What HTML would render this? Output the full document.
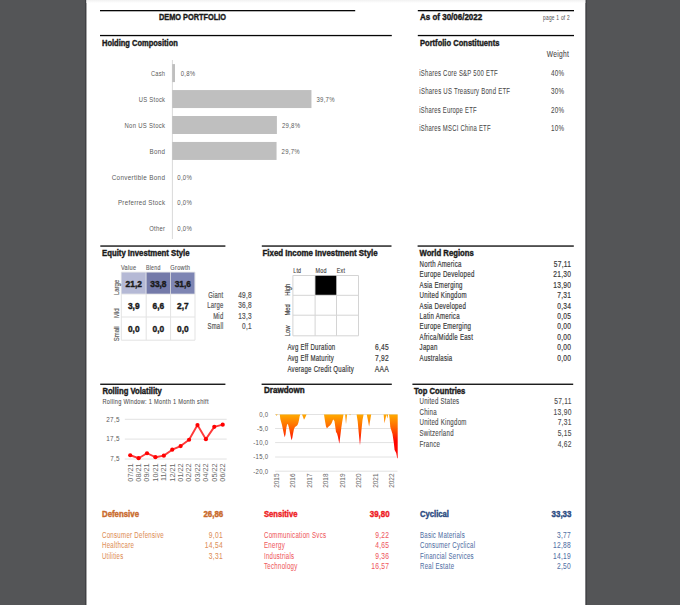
<!DOCTYPE html>
<html><head><meta charset="utf-8"><title>Demo Portfolio</title>
<style>
html,body{margin:0;padding:0;background:#545557;width:680px;height:605px;overflow:hidden}
svg{display:block}
text{font-family:"Liberation Sans",Arial,sans-serif}
</style></head><body>
<svg width="680" height="605" viewBox="0 0 680 605">
<defs>
<linearGradient id="topsh" x1="0" y1="0" x2="0" y2="1"><stop offset="0" stop-color="#f1f1f1"/><stop offset="1" stop-color="#fff"/></linearGradient>
<linearGradient id="ddg" gradientUnits="userSpaceOnUse" x1="0" y1="414.5" x2="0" y2="441"><stop offset="0" stop-color="#ffab00"/><stop offset="0.5" stop-color="#ff6400"/><stop offset="1" stop-color="#ff0500"/></linearGradient>
</defs>
<rect width="680" height="605" fill="#545557"/>
<rect x="85.00" y="0.00" width="1.50" height="605.00" fill="#404144"/>
<rect x="585.30" y="0.00" width="1.50" height="605.00" fill="#404144"/>
<rect x="86.50" y="0.00" width="498.80" height="605.00" fill="#fff"/>
<rect x="86.5" y="0" width="498.8" height="3" fill="url(#topsh)"/>
<rect x="100.00" y="10.00" width="255.20" height="1.30" fill="#050505"/>
<rect x="100.00" y="34.90" width="291.80" height="1.30" fill="#050505"/>
<rect x="417.80" y="10.00" width="156.20" height="1.30" fill="#050505"/>
<rect x="417.80" y="34.90" width="156.20" height="1.30" fill="#050505"/>
<text x="159.00" y="19.80" font-size="8.8" font-weight="bold" fill="#1a1a1a" stroke="#1a1a1a" stroke-width="0.4" text-anchor="start" textLength="67.01" lengthAdjust="spacingAndGlyphs">DEMO PORTFOLIO</text>
<text x="420.00" y="19.90" font-size="8.8" font-weight="bold" fill="#1a1a1a" stroke="#1a1a1a" stroke-width="0.4" text-anchor="start" textLength="62.20" lengthAdjust="spacingAndGlyphs">As of 30/06/2022</text>
<text x="570.00" y="20.00" font-size="6.6" fill="#555" stroke="#555" stroke-width="0.05" letter-spacing="0.35" text-anchor="end" textLength="27.00" lengthAdjust="spacingAndGlyphs">page 1 of 2</text>
<text x="102.00" y="46.20" font-size="8.8" font-weight="bold" fill="#1a1a1a" stroke="#1a1a1a" stroke-width="0.4" text-anchor="start" textLength="75.80" lengthAdjust="spacingAndGlyphs">Holding Composition</text>
<text x="420.00" y="45.80" font-size="8.8" font-weight="bold" fill="#1a1a1a" stroke="#1a1a1a" stroke-width="0.4" text-anchor="start" textLength="79.39" lengthAdjust="spacingAndGlyphs">Portfolio Constituents</text>
<line x1="172.4" y1="60" x2="172.4" y2="239" stroke="#d9d9d9" stroke-width="1"/>
<rect x="172.20" y="64.10" width="2.80" height="18.00" fill="#bfbfbf"/>
<text x="165.30" y="75.70" font-size="7.3" fill="#5a5a5a" letter-spacing="0.35" text-anchor="end" textLength="14.40" lengthAdjust="spacingAndGlyphs">Cash</text>
<text x="180.69" y="75.70" font-size="7.3" fill="#5a5a5a" letter-spacing="0.35" text-anchor="start" textLength="14.81" lengthAdjust="spacingAndGlyphs">0,8%</text>
<rect x="172.20" y="90.05" width="139.25" height="18.00" fill="#bfbfbf"/>
<text x="165.29" y="101.65" font-size="7.3" fill="#5a5a5a" letter-spacing="0.35" text-anchor="end" textLength="26.49" lengthAdjust="spacingAndGlyphs">US Stock</text>
<text x="316.45" y="101.65" font-size="7.3" fill="#5a5a5a" letter-spacing="0.35" text-anchor="start" textLength="18.42" lengthAdjust="spacingAndGlyphs">39,7%</text>
<rect x="172.20" y="116.00" width="104.70" height="18.00" fill="#bfbfbf"/>
<text x="165.29" y="127.60" font-size="7.3" fill="#5a5a5a" letter-spacing="0.35" text-anchor="end" textLength="40.79" lengthAdjust="spacingAndGlyphs">Non US Stock</text>
<text x="281.90" y="127.60" font-size="7.3" fill="#5a5a5a" letter-spacing="0.35" text-anchor="start" textLength="18.42" lengthAdjust="spacingAndGlyphs">29,8%</text>
<rect x="172.20" y="141.95" width="104.35" height="18.00" fill="#bfbfbf"/>
<text x="165.30" y="153.55" font-size="7.3" fill="#5a5a5a" letter-spacing="0.35" text-anchor="end" textLength="15.70" lengthAdjust="spacingAndGlyphs">Bond</text>
<text x="281.55" y="153.55" font-size="7.3" fill="#5a5a5a" letter-spacing="0.35" text-anchor="start" textLength="18.42" lengthAdjust="spacingAndGlyphs">29,7%</text>
<text x="165.29" y="179.50" font-size="7.3" fill="#5a5a5a" letter-spacing="0.35" text-anchor="end" textLength="53.59" lengthAdjust="spacingAndGlyphs">Convertible Bond</text>
<text x="177.30" y="179.50" font-size="7.3" fill="#5a5a5a" letter-spacing="0.35" text-anchor="start" textLength="14.81" lengthAdjust="spacingAndGlyphs">0,0%</text>
<text x="165.28" y="205.45" font-size="7.3" fill="#5a5a5a" letter-spacing="0.35" text-anchor="end" textLength="47.38" lengthAdjust="spacingAndGlyphs">Preferred Stock</text>
<text x="177.30" y="205.45" font-size="7.3" fill="#5a5a5a" letter-spacing="0.35" text-anchor="start" textLength="14.81" lengthAdjust="spacingAndGlyphs">0,0%</text>
<text x="165.31" y="231.40" font-size="7.3" fill="#5a5a5a" letter-spacing="0.35" text-anchor="end" textLength="16.07" lengthAdjust="spacingAndGlyphs">Other</text>
<text x="177.30" y="231.40" font-size="7.3" fill="#5a5a5a" letter-spacing="0.35" text-anchor="start" textLength="14.81" lengthAdjust="spacingAndGlyphs">0,0%</text>
<text x="546.80" y="56.90" font-size="8.4" fill="#4a4a4a" stroke="#4a4a4a" stroke-width="0.1" letter-spacing="0.35" text-anchor="start" textLength="22.30" lengthAdjust="spacingAndGlyphs">Weight</text>
<text x="419.30" y="75.90" font-size="8.4" fill="#4a4a4a" stroke="#4a4a4a" stroke-width="0.06" letter-spacing="0.35" text-anchor="start" textLength="78.60" lengthAdjust="spacingAndGlyphs">iShares Core S&amp;P 500 ETF</text>
<text x="564.39" y="75.90" font-size="8.4" fill="#4a4a4a" stroke="#4a4a4a" stroke-width="0.06" letter-spacing="0.35" text-anchor="end" textLength="13.39" lengthAdjust="spacingAndGlyphs">40%</text>
<text x="419.30" y="94.20" font-size="8.4" fill="#4a4a4a" stroke="#4a4a4a" stroke-width="0.06" letter-spacing="0.35" text-anchor="start" textLength="91.00" lengthAdjust="spacingAndGlyphs">iShares US Treasury Bond ETF</text>
<text x="564.39" y="94.20" font-size="8.4" fill="#4a4a4a" stroke="#4a4a4a" stroke-width="0.06" letter-spacing="0.35" text-anchor="end" textLength="13.39" lengthAdjust="spacingAndGlyphs">30%</text>
<text x="419.30" y="112.50" font-size="8.4" fill="#4a4a4a" stroke="#4a4a4a" stroke-width="0.06" letter-spacing="0.35" text-anchor="start" textLength="57.50" lengthAdjust="spacingAndGlyphs">iShares Europe ETF</text>
<text x="564.39" y="112.50" font-size="8.4" fill="#4a4a4a" stroke="#4a4a4a" stroke-width="0.06" letter-spacing="0.35" text-anchor="end" textLength="13.39" lengthAdjust="spacingAndGlyphs">20%</text>
<text x="419.30" y="130.80" font-size="8.4" fill="#4a4a4a" stroke="#4a4a4a" stroke-width="0.06" letter-spacing="0.35" text-anchor="start" textLength="71.51" lengthAdjust="spacingAndGlyphs">iShares MSCI China ETF</text>
<text x="564.39" y="130.80" font-size="8.4" fill="#4a4a4a" stroke="#4a4a4a" stroke-width="0.06" letter-spacing="0.35" text-anchor="end" textLength="13.39" lengthAdjust="spacingAndGlyphs">10%</text>
<rect x="100.30" y="245.40" width="125.10" height="1.30" fill="#050505"/>
<rect x="261.80" y="245.40" width="129.70" height="1.30" fill="#050505"/>
<rect x="417.60" y="245.40" width="156.20" height="1.30" fill="#050505"/>
<text x="102.00" y="255.60" font-size="8.8" font-weight="bold" fill="#1a1a1a" stroke="#1a1a1a" stroke-width="0.4" text-anchor="start" textLength="87.51" lengthAdjust="spacingAndGlyphs">Equity Investment Style</text>
<text x="262.50" y="255.60" font-size="8.8" font-weight="bold" fill="#1a1a1a" stroke="#1a1a1a" stroke-width="0.4" text-anchor="start" textLength="115.11" lengthAdjust="spacingAndGlyphs">Fixed Income Investment Style</text>
<text x="419.50" y="255.60" font-size="8.8" font-weight="bold" fill="#1a1a1a" stroke="#1a1a1a" stroke-width="0.4" text-anchor="start" textLength="54.30" lengthAdjust="spacingAndGlyphs">World Regions</text>
<line x1="121.3" y1="272.2" x2="121.3" y2="340.2" stroke="#e3e3e3" stroke-width="1"/>
<line x1="121.3" y1="272.2" x2="195.0" y2="272.2" stroke="#e3e3e3" stroke-width="1"/>
<line x1="146.2" y1="272.2" x2="146.2" y2="340.2" stroke="#e3e3e3" stroke-width="1"/>
<line x1="121.3" y1="294.0" x2="195.0" y2="294.0" stroke="#e3e3e3" stroke-width="1"/>
<line x1="170.6" y1="272.2" x2="170.6" y2="340.2" stroke="#e3e3e3" stroke-width="1"/>
<line x1="121.3" y1="317.0" x2="195.0" y2="317.0" stroke="#e3e3e3" stroke-width="1"/>
<line x1="195.0" y1="272.2" x2="195.0" y2="340.2" stroke="#e3e3e3" stroke-width="1"/>
<line x1="121.3" y1="340.2" x2="195.0" y2="340.2" stroke="#e3e3e3" stroke-width="1"/>
<rect x="121.60" y="272.50" width="24.10" height="21.20" fill="#b5b9d5"/>
<text x="133.75" y="286.60" font-size="8.8" font-weight="bold" fill="#1a1a1a" stroke="#1a1a1a" stroke-width="0.4" text-anchor="middle" textLength="16.27" lengthAdjust="spacingAndGlyphs">21,2</text>
<rect x="146.50" y="272.50" width="23.60" height="21.20" fill="#747aa9"/>
<text x="158.40" y="286.60" font-size="8.8" font-weight="bold" fill="#1a1a1a" stroke="#1a1a1a" stroke-width="0.4" text-anchor="middle" textLength="16.27" lengthAdjust="spacingAndGlyphs">33,8</text>
<rect x="170.90" y="272.50" width="23.60" height="21.20" fill="#7e85b3"/>
<text x="182.80" y="286.60" font-size="8.8" font-weight="bold" fill="#1a1a1a" stroke="#1a1a1a" stroke-width="0.4" text-anchor="middle" textLength="16.27" lengthAdjust="spacingAndGlyphs">31,6</text>
<text x="133.75" y="309.00" font-size="8.8" font-weight="bold" fill="#1a1a1a" stroke="#1a1a1a" stroke-width="0.4" text-anchor="middle" textLength="11.62" lengthAdjust="spacingAndGlyphs">3,9</text>
<text x="158.40" y="309.00" font-size="8.8" font-weight="bold" fill="#1a1a1a" stroke="#1a1a1a" stroke-width="0.4" text-anchor="middle" textLength="11.62" lengthAdjust="spacingAndGlyphs">6,6</text>
<text x="182.80" y="309.00" font-size="8.8" font-weight="bold" fill="#1a1a1a" stroke="#1a1a1a" stroke-width="0.4" text-anchor="middle" textLength="11.62" lengthAdjust="spacingAndGlyphs">2,7</text>
<text x="133.75" y="332.10" font-size="8.8" font-weight="bold" fill="#1a1a1a" stroke="#1a1a1a" stroke-width="0.4" text-anchor="middle" textLength="11.62" lengthAdjust="spacingAndGlyphs">0,0</text>
<text x="158.40" y="332.10" font-size="8.8" font-weight="bold" fill="#1a1a1a" stroke="#1a1a1a" stroke-width="0.4" text-anchor="middle" textLength="11.62" lengthAdjust="spacingAndGlyphs">0,0</text>
<text x="182.80" y="332.10" font-size="8.8" font-weight="bold" fill="#1a1a1a" stroke="#1a1a1a" stroke-width="0.4" text-anchor="middle" textLength="11.62" lengthAdjust="spacingAndGlyphs">0,0</text>
<text x="121.00" y="270.00" font-size="6.9" fill="#5e5e5e" stroke="#5e5e5e" stroke-width="0.12" letter-spacing="0.35" text-anchor="start" textLength="15.31" lengthAdjust="spacingAndGlyphs">Value</text>
<text x="145.90" y="270.00" font-size="6.9" fill="#5e5e5e" stroke="#5e5e5e" stroke-width="0.12" letter-spacing="0.35" text-anchor="start" textLength="14.70" lengthAdjust="spacingAndGlyphs">Blend</text>
<text x="170.30" y="270.00" font-size="6.9" fill="#5e5e5e" stroke="#5e5e5e" stroke-width="0.12" letter-spacing="0.35" text-anchor="start" textLength="20.00" lengthAdjust="spacingAndGlyphs">Growth</text>
<text transform="translate(118.60,295.00) rotate(-90)" font-size="6.9" fill="#5a5a5a" stroke="#5a5a5a" stroke-width="0.15" textLength="15.18" lengthAdjust="spacingAndGlyphs">Large</text>
<text transform="translate(118.60,318.00) rotate(-90)" font-size="6.9" fill="#5a5a5a" stroke="#5a5a5a" stroke-width="0.15" textLength="9.56" lengthAdjust="spacingAndGlyphs">Mid</text>
<text transform="translate(118.60,341.20) rotate(-90)" font-size="6.9" fill="#5a5a5a" stroke="#5a5a5a" stroke-width="0.15" textLength="14.84" lengthAdjust="spacingAndGlyphs">Small</text>
<text x="223.50" y="298.40" font-size="8.4" fill="#555" stroke="#555" stroke-width="0.2" letter-spacing="0.35" text-anchor="end" textLength="15.26" lengthAdjust="spacingAndGlyphs">Giant</text>
<text x="251.89" y="298.40" font-size="8.4" fill="#555" stroke="#555" stroke-width="0.2" letter-spacing="0.35" text-anchor="end" textLength="13.73" lengthAdjust="spacingAndGlyphs">49,8</text>
<text x="223.50" y="308.45" font-size="8.4" fill="#555" stroke="#555" stroke-width="0.2" letter-spacing="0.35" text-anchor="end" textLength="16.33" lengthAdjust="spacingAndGlyphs">Large</text>
<text x="251.89" y="308.45" font-size="8.4" fill="#555" stroke="#555" stroke-width="0.2" letter-spacing="0.35" text-anchor="end" textLength="13.73" lengthAdjust="spacingAndGlyphs">36,8</text>
<text x="223.49" y="318.50" font-size="8.4" fill="#555" stroke="#555" stroke-width="0.2" letter-spacing="0.35" text-anchor="end" textLength="10.29" lengthAdjust="spacingAndGlyphs">Mid</text>
<text x="251.89" y="318.50" font-size="8.4" fill="#555" stroke="#555" stroke-width="0.2" letter-spacing="0.35" text-anchor="end" textLength="13.73" lengthAdjust="spacingAndGlyphs">13,3</text>
<text x="223.50" y="328.55" font-size="8.4" fill="#555" stroke="#555" stroke-width="0.2" letter-spacing="0.35" text-anchor="end" textLength="15.96" lengthAdjust="spacingAndGlyphs">Small</text>
<text x="251.90" y="328.55" font-size="8.4" fill="#555" stroke="#555" stroke-width="0.2" letter-spacing="0.35" text-anchor="end" textLength="9.81" lengthAdjust="spacingAndGlyphs">0,1</text>
<line x1="292.9" y1="275.5" x2="292.9" y2="335.8" stroke="#d4d4d4" stroke-width="1"/>
<line x1="292.9" y1="275.5" x2="358.5" y2="275.5" stroke="#d4d4d4" stroke-width="1"/>
<line x1="315.1" y1="275.5" x2="315.1" y2="335.8" stroke="#d4d4d4" stroke-width="1"/>
<line x1="292.9" y1="295.3" x2="358.5" y2="295.3" stroke="#d4d4d4" stroke-width="1"/>
<line x1="336.5" y1="275.5" x2="336.5" y2="335.8" stroke="#d4d4d4" stroke-width="1"/>
<line x1="292.9" y1="315.2" x2="358.5" y2="315.2" stroke="#d4d4d4" stroke-width="1"/>
<line x1="358.5" y1="275.5" x2="358.5" y2="335.8" stroke="#d4d4d4" stroke-width="1"/>
<line x1="292.9" y1="335.8" x2="358.5" y2="335.8" stroke="#d4d4d4" stroke-width="1"/>
<rect x="315.40" y="275.80" width="20.80" height="19.00" fill="#000"/>
<text x="293.20" y="273.40" font-size="7.3" fill="#3c3c3c" stroke="#3c3c3c" stroke-width="0.12" letter-spacing="0.35" text-anchor="start" textLength="8.12" lengthAdjust="spacingAndGlyphs">Ltd</text>
<text x="315.40" y="273.40" font-size="7.3" fill="#3c3c3c" stroke="#3c3c3c" stroke-width="0.12" letter-spacing="0.35" text-anchor="start" textLength="11.36" lengthAdjust="spacingAndGlyphs">Mod</text>
<text x="336.80" y="273.40" font-size="7.3" fill="#3c3c3c" stroke="#3c3c3c" stroke-width="0.12" letter-spacing="0.35" text-anchor="start" textLength="8.44" lengthAdjust="spacingAndGlyphs">Ext</text>
<text transform="translate(290.00,295.70) rotate(-90)" font-size="7.2" fill="#3c3c3c" stroke="#3c3c3c" stroke-width="0.15" textLength="11.85" lengthAdjust="spacingAndGlyphs">High</text>
<text transform="translate(290.00,315.60) rotate(-90)" font-size="7.2" fill="#3c3c3c" stroke="#3c3c3c" stroke-width="0.15" textLength="11.21" lengthAdjust="spacingAndGlyphs">Med</text>
<text transform="translate(290.00,336.20) rotate(-90)" font-size="7.2" fill="#3c3c3c" stroke="#3c3c3c" stroke-width="0.15" textLength="10.57" lengthAdjust="spacingAndGlyphs">Low</text>
<text x="287.40" y="350.20" font-size="8.4" fill="#3a3a3a" stroke="#3a3a3a" stroke-width="0.2" letter-spacing="0.35" text-anchor="start" textLength="48.08" lengthAdjust="spacingAndGlyphs">Avg Eff Duration</text>
<text x="389.09" y="350.20" font-size="8.4" fill="#3a3a3a" stroke="#3a3a3a" stroke-width="0.2" letter-spacing="0.35" text-anchor="end" textLength="14.06" lengthAdjust="spacingAndGlyphs">6,45</text>
<text x="287.40" y="360.95" font-size="8.4" fill="#3a3a3a" stroke="#3a3a3a" stroke-width="0.2" letter-spacing="0.35" text-anchor="start" textLength="46.60" lengthAdjust="spacingAndGlyphs">Avg Eff Maturity</text>
<text x="389.09" y="360.95" font-size="8.4" fill="#3a3a3a" stroke="#3a3a3a" stroke-width="0.2" letter-spacing="0.35" text-anchor="end" textLength="14.06" lengthAdjust="spacingAndGlyphs">7,92</text>
<text x="287.40" y="371.70" font-size="8.4" fill="#3a3a3a" stroke="#3a3a3a" stroke-width="0.2" letter-spacing="0.35" text-anchor="start" textLength="66.64" lengthAdjust="spacingAndGlyphs">Average Credit Quality</text>
<text x="389.09" y="371.70" font-size="8.4" fill="#3a3a3a" stroke="#3a3a3a" stroke-width="0.2" letter-spacing="0.35" text-anchor="end" textLength="14.46" lengthAdjust="spacingAndGlyphs">AAA</text>
<text x="419.60" y="266.90" font-size="8.4" fill="#3a3a3a" stroke="#3a3a3a" stroke-width="0.2" letter-spacing="0.35" text-anchor="start" textLength="42.04" lengthAdjust="spacingAndGlyphs">North America</text>
<text x="571.31" y="266.90" font-size="8.4" fill="#3a3a3a" stroke="#3a3a3a" stroke-width="0.2" letter-spacing="0.35" text-anchor="end" textLength="17.54" lengthAdjust="spacingAndGlyphs">57,11</text>
<text x="419.60" y="277.30" font-size="8.4" fill="#3a3a3a" stroke="#3a3a3a" stroke-width="0.2" letter-spacing="0.35" text-anchor="start" textLength="54.97" lengthAdjust="spacingAndGlyphs">Europe Developed</text>
<text x="571.30" y="277.30" font-size="8.4" fill="#3a3a3a" stroke="#3a3a3a" stroke-width="0.2" letter-spacing="0.35" text-anchor="end" textLength="18.08" lengthAdjust="spacingAndGlyphs">21,30</text>
<text x="419.60" y="287.70" font-size="8.4" fill="#3a3a3a" stroke="#3a3a3a" stroke-width="0.2" letter-spacing="0.35" text-anchor="start" textLength="43.15" lengthAdjust="spacingAndGlyphs">Asia Emerging</text>
<text x="571.30" y="287.70" font-size="8.4" fill="#3a3a3a" stroke="#3a3a3a" stroke-width="0.2" letter-spacing="0.35" text-anchor="end" textLength="18.08" lengthAdjust="spacingAndGlyphs">13,90</text>
<text x="419.60" y="298.10" font-size="8.4" fill="#3a3a3a" stroke="#3a3a3a" stroke-width="0.2" letter-spacing="0.35" text-anchor="start" textLength="47.22" lengthAdjust="spacingAndGlyphs">United Kingdom</text>
<text x="571.29" y="298.10" font-size="8.4" fill="#3a3a3a" stroke="#3a3a3a" stroke-width="0.2" letter-spacing="0.35" text-anchor="end" textLength="14.06" lengthAdjust="spacingAndGlyphs">7,31</text>
<text x="419.60" y="308.50" font-size="8.4" fill="#3a3a3a" stroke="#3a3a3a" stroke-width="0.2" letter-spacing="0.35" text-anchor="start" textLength="46.48" lengthAdjust="spacingAndGlyphs">Asia Developed</text>
<text x="571.29" y="308.50" font-size="8.4" fill="#3a3a3a" stroke="#3a3a3a" stroke-width="0.2" letter-spacing="0.35" text-anchor="end" textLength="14.06" lengthAdjust="spacingAndGlyphs">0,34</text>
<text x="419.60" y="318.90" font-size="8.4" fill="#3a3a3a" stroke="#3a3a3a" stroke-width="0.2" letter-spacing="0.35" text-anchor="start" textLength="40.21" lengthAdjust="spacingAndGlyphs">Latin America</text>
<text x="571.29" y="318.90" font-size="8.4" fill="#3a3a3a" stroke="#3a3a3a" stroke-width="0.2" letter-spacing="0.35" text-anchor="end" textLength="14.06" lengthAdjust="spacingAndGlyphs">0,05</text>
<text x="419.60" y="329.30" font-size="8.4" fill="#3a3a3a" stroke="#3a3a3a" stroke-width="0.2" letter-spacing="0.35" text-anchor="start" textLength="51.64" lengthAdjust="spacingAndGlyphs">Europe Emerging</text>
<text x="571.29" y="329.30" font-size="8.4" fill="#3a3a3a" stroke="#3a3a3a" stroke-width="0.2" letter-spacing="0.35" text-anchor="end" textLength="14.06" lengthAdjust="spacingAndGlyphs">0,00</text>
<text x="419.60" y="339.70" font-size="8.4" fill="#3a3a3a" stroke="#3a3a3a" stroke-width="0.2" letter-spacing="0.35" text-anchor="start" textLength="53.48" lengthAdjust="spacingAndGlyphs">Africa/Middle East</text>
<text x="571.29" y="339.70" font-size="8.4" fill="#3a3a3a" stroke="#3a3a3a" stroke-width="0.2" letter-spacing="0.35" text-anchor="end" textLength="14.06" lengthAdjust="spacingAndGlyphs">0,00</text>
<text x="419.60" y="350.10" font-size="8.4" fill="#3a3a3a" stroke="#3a3a3a" stroke-width="0.2" letter-spacing="0.35" text-anchor="start" textLength="18.08" lengthAdjust="spacingAndGlyphs">Japan</text>
<text x="571.29" y="350.10" font-size="8.4" fill="#3a3a3a" stroke="#3a3a3a" stroke-width="0.2" letter-spacing="0.35" text-anchor="end" textLength="14.06" lengthAdjust="spacingAndGlyphs">0,00</text>
<text x="419.60" y="360.50" font-size="8.4" fill="#3a3a3a" stroke="#3a3a3a" stroke-width="0.2" letter-spacing="0.35" text-anchor="start" textLength="32.83" lengthAdjust="spacingAndGlyphs">Australasia</text>
<text x="571.29" y="360.50" font-size="8.4" fill="#3a3a3a" stroke="#3a3a3a" stroke-width="0.2" letter-spacing="0.35" text-anchor="end" textLength="14.06" lengthAdjust="spacingAndGlyphs">0,00</text>
<rect x="100.20" y="383.60" width="125.20" height="1.30" fill="#050505"/>
<rect x="261.60" y="383.60" width="130.20" height="1.30" fill="#050505"/>
<rect x="412.40" y="383.60" width="160.80" height="1.30" fill="#050505"/>
<text x="102.40" y="393.80" font-size="8.8" font-weight="bold" fill="#1a1a1a" stroke="#1a1a1a" stroke-width="0.4" text-anchor="start" textLength="59.50" lengthAdjust="spacingAndGlyphs">Rolling Volatility</text>
<text x="102.40" y="404.20" font-size="7.4" fill="#505050" stroke="#505050" stroke-width="0.08" letter-spacing="0.35" text-anchor="start" textLength="106.39" lengthAdjust="spacingAndGlyphs">Rolling Window: 1 Month 1 Month shift</text>
<text x="264.00" y="393.40" font-size="8.8" font-weight="bold" fill="#1a1a1a" stroke="#1a1a1a" stroke-width="0.4" text-anchor="start" textLength="40.61" lengthAdjust="spacingAndGlyphs">Drawdown</text>
<text x="414.00" y="393.60" font-size="8.8" font-weight="bold" fill="#1a1a1a" stroke="#1a1a1a" stroke-width="0.4" text-anchor="start" textLength="51.31" lengthAdjust="spacingAndGlyphs">Top Countries</text>
<line x1="124.8" y1="419.3" x2="226.7" y2="419.3" stroke="#e2e2e2" stroke-width="1"/>
<text x="119.89" y="421.60" font-size="7.0" fill="#595959" letter-spacing="0.35" text-anchor="end" textLength="13.62" lengthAdjust="spacingAndGlyphs">27,5</text>
<line x1="124.8" y1="439.1" x2="226.7" y2="439.1" stroke="#e2e2e2" stroke-width="1"/>
<text x="119.89" y="441.40" font-size="7.0" fill="#595959" letter-spacing="0.35" text-anchor="end" textLength="13.62" lengthAdjust="spacingAndGlyphs">17,5</text>
<line x1="124.8" y1="459.0" x2="226.7" y2="459.0" stroke="#e2e2e2" stroke-width="1"/>
<text x="119.90" y="461.30" font-size="7.0" fill="#595959" letter-spacing="0.35" text-anchor="end" textLength="9.73" lengthAdjust="spacingAndGlyphs">7,5</text>
<polyline points="130.20,455.23 138.61,458.21 147.02,453.24 155.43,457.21 163.84,455.63 172.25,449.67 180.66,446.10 189.07,439.75 197.48,425.06 205.89,439.15 214.30,426.84 222.71,424.66" fill="none" stroke="#ff3a3a" stroke-width="1.9" stroke-linejoin="round"/>
<circle cx="130.20" cy="455.23" r="2.1" fill="#ff0000"/>
<circle cx="138.61" cy="458.21" r="2.1" fill="#ff0000"/>
<circle cx="147.02" cy="453.24" r="2.1" fill="#ff0000"/>
<circle cx="155.43" cy="457.21" r="2.1" fill="#ff0000"/>
<circle cx="163.84" cy="455.63" r="2.1" fill="#ff0000"/>
<circle cx="172.25" cy="449.67" r="2.1" fill="#ff0000"/>
<circle cx="180.66" cy="446.10" r="2.1" fill="#ff0000"/>
<circle cx="189.07" cy="439.75" r="2.1" fill="#ff0000"/>
<circle cx="197.48" cy="425.06" r="2.1" fill="#ff0000"/>
<circle cx="205.89" cy="439.15" r="2.1" fill="#ff0000"/>
<circle cx="214.30" cy="426.84" r="2.1" fill="#ff0000"/>
<circle cx="222.71" cy="424.66" r="2.1" fill="#ff0000"/>
<text transform="translate(132.60,463.60) rotate(-90)" font-size="7.0" fill="#666666" text-anchor="end" textLength="18.04" lengthAdjust="spacingAndGlyphs">07/21</text>
<text transform="translate(141.01,463.60) rotate(-90)" font-size="7.0" fill="#666666" text-anchor="end" textLength="18.04" lengthAdjust="spacingAndGlyphs">08/21</text>
<text transform="translate(149.42,463.60) rotate(-90)" font-size="7.0" fill="#666666" text-anchor="end" textLength="18.04" lengthAdjust="spacingAndGlyphs">09/21</text>
<text transform="translate(157.83,463.60) rotate(-90)" font-size="7.0" fill="#666666" text-anchor="end" textLength="18.04" lengthAdjust="spacingAndGlyphs">10/21</text>
<text transform="translate(166.24,463.59) rotate(-90)" font-size="7.0" fill="#666666" text-anchor="end" textLength="17.51" lengthAdjust="spacingAndGlyphs">11/21</text>
<text transform="translate(174.65,463.60) rotate(-90)" font-size="7.0" fill="#666666" text-anchor="end" textLength="18.04" lengthAdjust="spacingAndGlyphs">12/21</text>
<text transform="translate(183.06,463.60) rotate(-90)" font-size="7.0" fill="#666666" text-anchor="end" textLength="18.04" lengthAdjust="spacingAndGlyphs">01/22</text>
<text transform="translate(191.47,463.60) rotate(-90)" font-size="7.0" fill="#666666" text-anchor="end" textLength="18.04" lengthAdjust="spacingAndGlyphs">02/22</text>
<text transform="translate(199.88,463.60) rotate(-90)" font-size="7.0" fill="#666666" text-anchor="end" textLength="18.04" lengthAdjust="spacingAndGlyphs">03/22</text>
<text transform="translate(208.29,463.60) rotate(-90)" font-size="7.0" fill="#666666" text-anchor="end" textLength="18.04" lengthAdjust="spacingAndGlyphs">04/22</text>
<text transform="translate(216.70,463.60) rotate(-90)" font-size="7.0" fill="#666666" text-anchor="end" textLength="18.04" lengthAdjust="spacingAndGlyphs">05/22</text>
<text transform="translate(225.11,463.60) rotate(-90)" font-size="7.0" fill="#666666" text-anchor="end" textLength="18.04" lengthAdjust="spacingAndGlyphs">06/22</text>
<line x1="275.1" y1="414.5" x2="397.5" y2="414.5" stroke="#e2e2e2" stroke-width="1"/>
<text x="268.40" y="416.80" font-size="7.0" fill="#595959" letter-spacing="0.35" text-anchor="end" textLength="9.24" lengthAdjust="spacingAndGlyphs">0,0</text>
<line x1="275.1" y1="428.5" x2="397.5" y2="428.5" stroke="#e2e2e2" stroke-width="1"/>
<text x="268.40" y="430.80" font-size="7.0" fill="#595959" letter-spacing="0.35" text-anchor="end" textLength="11.46" lengthAdjust="spacingAndGlyphs">-5,0</text>
<line x1="275.1" y1="442.6" x2="397.5" y2="442.6" stroke="#e2e2e2" stroke-width="1"/>
<text x="268.40" y="444.90" font-size="7.0" fill="#595959" letter-spacing="0.35" text-anchor="end" textLength="15.16" lengthAdjust="spacingAndGlyphs">-10,0</text>
<line x1="275.1" y1="457.0" x2="397.5" y2="457.0" stroke="#e2e2e2" stroke-width="1"/>
<text x="268.40" y="459.30" font-size="7.0" fill="#595959" letter-spacing="0.35" text-anchor="end" textLength="15.16" lengthAdjust="spacingAndGlyphs">-15,0</text>
<line x1="275.1" y1="471.2" x2="397.5" y2="471.2" stroke="#e2e2e2" stroke-width="1"/>
<text x="268.40" y="473.50" font-size="7.0" fill="#595959" letter-spacing="0.35" text-anchor="end" textLength="15.16" lengthAdjust="spacingAndGlyphs">-20,0</text>
<polygon points="275.50,414.50 276.50,415.80 277.80,414.50" fill="url(#ddg)"/>
<polygon points="279.80,414.50 280.30,419.00 281.00,421.50 282.00,425.00 283.00,430.00 284.10,435.00 284.80,437.30 285.60,434.00 286.30,428.00 287.20,424.00 288.00,424.50 289.00,428.00 290.00,433.00 291.00,438.00 291.60,440.20 292.30,438.00 293.00,434.00 294.00,429.00 295.00,427.00 296.50,426.00 297.50,425.00 298.30,423.00 299.00,420.00 299.60,416.50 300.30,414.50" fill="url(#ddg)"/>
<polygon points="302.00,414.50 303.00,417.00 304.00,419.80 305.00,418.00 306.60,414.50" fill="url(#ddg)"/>
<polygon points="324.00,414.50 325.00,421.00 326.00,426.50 326.90,428.20 328.00,427.30 328.90,426.20 330.00,425.50 331.60,423.20 332.90,420.00 333.50,419.60 334.50,421.20 335.30,427.00 336.00,432.00 337.00,433.50 338.00,437.00 339.30,443.70 340.50,434.40 341.30,428.00 342.10,422.50 343.50,414.50" fill="url(#ddg)"/>
<polygon points="345.10,414.50 346.00,423.90 347.10,414.50" fill="url(#ddg)"/>
<polygon points="349.10,414.50 350.00,415.30 351.00,414.50" fill="url(#ddg)"/>
<polygon points="356.60,414.50 357.70,421.60 358.60,431.60 360.00,445.30 361.40,430.70 362.50,420.00 363.60,414.50" fill="url(#ddg)"/>
<polygon points="366.80,414.50 369.10,426.60 371.20,414.50" fill="url(#ddg)"/>
<polygon points="383.60,414.50 384.50,423.30 386.40,414.50 387.30,418.60 388.20,414.50" fill="url(#ddg)"/>
<polygon points="389.00,414.50 389.60,418.50 390.30,427.00 392.50,434.00 393.80,442.70 394.60,450.00 396.20,453.00 397.20,458.00 397.70,458.50 397.70,414.50" fill="url(#ddg)"/>
<text transform="translate(279.00,473.50) rotate(-90)" font-size="7.0" fill="#666666" text-anchor="end" textLength="14.33" lengthAdjust="spacingAndGlyphs">2015</text>
<text transform="translate(295.45,473.50) rotate(-90)" font-size="7.0" fill="#666666" text-anchor="end" textLength="14.33" lengthAdjust="spacingAndGlyphs">2016</text>
<text transform="translate(311.90,473.50) rotate(-90)" font-size="7.0" fill="#666666" text-anchor="end" textLength="14.33" lengthAdjust="spacingAndGlyphs">2017</text>
<text transform="translate(328.35,473.50) rotate(-90)" font-size="7.0" fill="#666666" text-anchor="end" textLength="14.33" lengthAdjust="spacingAndGlyphs">2018</text>
<text transform="translate(344.80,473.50) rotate(-90)" font-size="7.0" fill="#666666" text-anchor="end" textLength="14.33" lengthAdjust="spacingAndGlyphs">2019</text>
<text transform="translate(361.25,473.50) rotate(-90)" font-size="7.0" fill="#666666" text-anchor="end" textLength="14.33" lengthAdjust="spacingAndGlyphs">2020</text>
<text transform="translate(377.70,473.50) rotate(-90)" font-size="7.0" fill="#666666" text-anchor="end" textLength="14.33" lengthAdjust="spacingAndGlyphs">2021</text>
<text transform="translate(394.15,473.50) rotate(-90)" font-size="7.0" fill="#666666" text-anchor="end" textLength="14.33" lengthAdjust="spacingAndGlyphs">2022</text>
<text x="419.50" y="404.30" font-size="8.4" fill="#4d4d4d" stroke="#4d4d4d" stroke-width="0.12" letter-spacing="0.35" text-anchor="start" textLength="39.84" lengthAdjust="spacingAndGlyphs">United States</text>
<text x="571.71" y="404.30" font-size="8.4" fill="#4d4d4d" stroke="#4d4d4d" stroke-width="0.12" letter-spacing="0.35" text-anchor="end" textLength="17.54" lengthAdjust="spacingAndGlyphs">57,11</text>
<text x="419.50" y="414.85" font-size="8.4" fill="#4d4d4d" stroke="#4d4d4d" stroke-width="0.12" letter-spacing="0.35" text-anchor="start" textLength="17.34" lengthAdjust="spacingAndGlyphs">China</text>
<text x="571.70" y="414.85" font-size="8.4" fill="#4d4d4d" stroke="#4d4d4d" stroke-width="0.12" letter-spacing="0.35" text-anchor="end" textLength="18.08" lengthAdjust="spacingAndGlyphs">13,90</text>
<text x="419.50" y="425.40" font-size="8.4" fill="#4d4d4d" stroke="#4d4d4d" stroke-width="0.12" letter-spacing="0.35" text-anchor="start" textLength="47.22" lengthAdjust="spacingAndGlyphs">United Kingdom</text>
<text x="571.69" y="425.40" font-size="8.4" fill="#4d4d4d" stroke="#4d4d4d" stroke-width="0.12" letter-spacing="0.35" text-anchor="end" textLength="14.06" lengthAdjust="spacingAndGlyphs">7,31</text>
<text x="419.50" y="435.95" font-size="8.4" fill="#4d4d4d" stroke="#4d4d4d" stroke-width="0.12" letter-spacing="0.35" text-anchor="start" textLength="34.30" lengthAdjust="spacingAndGlyphs">Switzerland</text>
<text x="571.69" y="435.95" font-size="8.4" fill="#4d4d4d" stroke="#4d4d4d" stroke-width="0.12" letter-spacing="0.35" text-anchor="end" textLength="14.06" lengthAdjust="spacingAndGlyphs">5,15</text>
<text x="419.50" y="446.50" font-size="8.4" fill="#4d4d4d" stroke="#4d4d4d" stroke-width="0.12" letter-spacing="0.35" text-anchor="start" textLength="20.65" lengthAdjust="spacingAndGlyphs">France</text>
<text x="571.69" y="446.50" font-size="8.4" fill="#4d4d4d" stroke="#4d4d4d" stroke-width="0.12" letter-spacing="0.35" text-anchor="end" textLength="14.06" lengthAdjust="spacingAndGlyphs">4,62</text>
<text x="102.00" y="516.50" font-size="8.8" font-weight="bold" fill="#c96a2c" stroke="#c96a2c" stroke-width="0.4" text-anchor="start" textLength="37.00" lengthAdjust="spacingAndGlyphs">Defensive</text>
<text x="223.20" y="516.50" font-size="8.8" font-weight="bold" fill="#c96a2c" stroke="#c96a2c" stroke-width="0.4" text-anchor="end" textLength="19.82" lengthAdjust="spacingAndGlyphs">26,86</text>
<text x="102.00" y="537.90" font-size="8.4" fill="#de8f58" stroke="#de8f58" stroke-width="0.06" letter-spacing="0.35" text-anchor="start" textLength="61.96" lengthAdjust="spacingAndGlyphs">Consumer Defensive</text>
<text x="222.89" y="537.90" font-size="8.4" fill="#de8f58" stroke="#de8f58" stroke-width="0.06" letter-spacing="0.35" text-anchor="end" textLength="14.06" lengthAdjust="spacingAndGlyphs">9,01</text>
<text x="102.00" y="548.30" font-size="8.4" fill="#de8f58" stroke="#de8f58" stroke-width="0.06" letter-spacing="0.35" text-anchor="start" textLength="32.09" lengthAdjust="spacingAndGlyphs">Healthcare</text>
<text x="222.90" y="548.30" font-size="8.4" fill="#de8f58" stroke="#de8f58" stroke-width="0.06" letter-spacing="0.35" text-anchor="end" textLength="18.08" lengthAdjust="spacingAndGlyphs">14,54</text>
<text x="102.00" y="558.70" font-size="8.4" fill="#de8f58" stroke="#de8f58" stroke-width="0.06" letter-spacing="0.35" text-anchor="start" textLength="21.39" lengthAdjust="spacingAndGlyphs">Utilities</text>
<text x="222.89" y="558.70" font-size="8.4" fill="#de8f58" stroke="#de8f58" stroke-width="0.06" letter-spacing="0.35" text-anchor="end" textLength="14.06" lengthAdjust="spacingAndGlyphs">3,31</text>
<text x="264.00" y="516.50" font-size="8.8" font-weight="bold" fill="#ee1b24" stroke="#ee1b24" stroke-width="0.4" text-anchor="start" textLength="33.39" lengthAdjust="spacingAndGlyphs">Sensitive</text>
<text x="389.60" y="516.50" font-size="8.8" font-weight="bold" fill="#ee1b24" stroke="#ee1b24" stroke-width="0.4" text-anchor="end" textLength="19.82" lengthAdjust="spacingAndGlyphs">39,80</text>
<text x="264.00" y="537.90" font-size="8.4" fill="#f0595e" stroke="#f0595e" stroke-width="0.06" letter-spacing="0.35" text-anchor="start" textLength="62.33" lengthAdjust="spacingAndGlyphs">Communication Svcs</text>
<text x="389.29" y="537.90" font-size="8.4" fill="#f0595e" stroke="#f0595e" stroke-width="0.06" letter-spacing="0.35" text-anchor="end" textLength="14.06" lengthAdjust="spacingAndGlyphs">9,22</text>
<text x="264.00" y="548.30" font-size="8.4" fill="#f0595e" stroke="#f0595e" stroke-width="0.06" letter-spacing="0.35" text-anchor="start" textLength="21.03" lengthAdjust="spacingAndGlyphs">Energy</text>
<text x="389.29" y="548.30" font-size="8.4" fill="#f0595e" stroke="#f0595e" stroke-width="0.06" letter-spacing="0.35" text-anchor="end" textLength="14.06" lengthAdjust="spacingAndGlyphs">4,65</text>
<text x="264.00" y="558.70" font-size="8.4" fill="#f0595e" stroke="#f0595e" stroke-width="0.06" letter-spacing="0.35" text-anchor="start" textLength="30.25" lengthAdjust="spacingAndGlyphs">Industrials</text>
<text x="389.29" y="558.70" font-size="8.4" fill="#f0595e" stroke="#f0595e" stroke-width="0.06" letter-spacing="0.35" text-anchor="end" textLength="14.06" lengthAdjust="spacingAndGlyphs">9,36</text>
<text x="264.00" y="569.10" font-size="8.4" fill="#f0595e" stroke="#f0595e" stroke-width="0.06" letter-spacing="0.35" text-anchor="start" textLength="33.57" lengthAdjust="spacingAndGlyphs">Technology</text>
<text x="389.30" y="569.10" font-size="8.4" fill="#f0595e" stroke="#f0595e" stroke-width="0.06" letter-spacing="0.35" text-anchor="end" textLength="18.08" lengthAdjust="spacingAndGlyphs">16,57</text>
<text x="420.00" y="516.50" font-size="8.8" font-weight="bold" fill="#2b4c82" stroke="#2b4c82" stroke-width="0.4" text-anchor="start" textLength="28.90" lengthAdjust="spacingAndGlyphs">Cyclical</text>
<text x="571.40" y="516.50" font-size="8.8" font-weight="bold" fill="#2b4c82" stroke="#2b4c82" stroke-width="0.4" text-anchor="end" textLength="19.82" lengthAdjust="spacingAndGlyphs">33,33</text>
<text x="420.00" y="537.90" font-size="8.4" fill="#5371a5" stroke="#5371a5" stroke-width="0.06" letter-spacing="0.35" text-anchor="start" textLength="44.99" lengthAdjust="spacingAndGlyphs">Basic Materials</text>
<text x="571.09" y="537.90" font-size="8.4" fill="#5371a5" stroke="#5371a5" stroke-width="0.06" letter-spacing="0.35" text-anchor="end" textLength="14.06" lengthAdjust="spacingAndGlyphs">3,77</text>
<text x="420.00" y="548.30" font-size="8.4" fill="#5371a5" stroke="#5371a5" stroke-width="0.06" letter-spacing="0.35" text-anchor="start" textLength="55.32" lengthAdjust="spacingAndGlyphs">Consumer Cyclical</text>
<text x="571.10" y="548.30" font-size="8.4" fill="#5371a5" stroke="#5371a5" stroke-width="0.06" letter-spacing="0.35" text-anchor="end" textLength="18.08" lengthAdjust="spacingAndGlyphs">12,88</text>
<text x="420.00" y="558.70" font-size="8.4" fill="#5371a5" stroke="#5371a5" stroke-width="0.06" letter-spacing="0.35" text-anchor="start" textLength="53.85" lengthAdjust="spacingAndGlyphs">Financial Services</text>
<text x="571.10" y="558.70" font-size="8.4" fill="#5371a5" stroke="#5371a5" stroke-width="0.06" letter-spacing="0.35" text-anchor="end" textLength="18.08" lengthAdjust="spacingAndGlyphs">14,19</text>
<text x="420.00" y="569.10" font-size="8.4" fill="#5371a5" stroke="#5371a5" stroke-width="0.06" letter-spacing="0.35" text-anchor="start" textLength="34.31" lengthAdjust="spacingAndGlyphs">Real Estate</text>
<text x="571.09" y="569.10" font-size="8.4" fill="#5371a5" stroke="#5371a5" stroke-width="0.06" letter-spacing="0.35" text-anchor="end" textLength="14.06" lengthAdjust="spacingAndGlyphs">2,50</text>
</svg>
</body></html>
